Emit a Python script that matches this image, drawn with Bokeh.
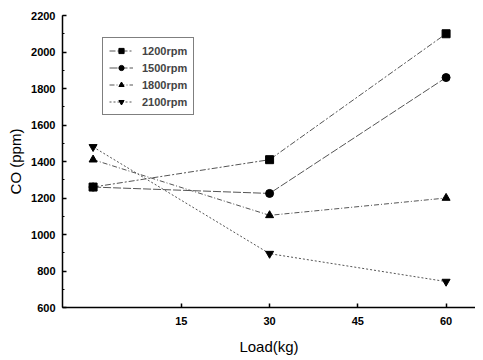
from bokeh.plotting import figure
from bokeh.models import Range1d, SingleIntervalTicker, FixedTicker, Legend, LegendItem
from bokeh.embed import file_html
from bokeh.resources import INLINE

loads = [0, 30, 60]
co_1200 = [1260, 1410, 2100]
co_1500 = [1260, 1225, 1860]
co_1800 = [1410, 1105, 1200]
co_2100 = [1480, 895, 742]
series_names = ["1200rpm", "1500rpm", "1800rpm", "2100rpm"]
x_ticks = [15, 30, 45, 60]

FONT = "Liberation Sans"

p = figure(width=475, height=358, output_backend="svg", toolbar_location=None,
           x_range=Range1d(-5.2, 65), y_range=Range1d(600, 2200),
           min_border_left=62, min_border_right=0, min_border_top=15, min_border_bottom=51)
p.outline_line_color = None
p.grid.grid_line_color = None
p.background_fill_color = "white"

series = [co_1200, co_1500, co_1800, co_2100]
markers = ["square", "circle", "triangle", "inverted_triangle"]
dashes = ["6 2 2 2", "8 2", "5 2 1 2", "2 2"]
items = []
for name, vals, mk, dash in zip(series_names, series, markers, dashes):
    ln = p.line(loads, vals, line_color="#555555", line_width=1, line_dash=dash)
    sc = p.scatter(loads, vals, marker=mk, size=8, fill_color="black", line_color="black")
    items.append(LegendItem(label=name, renderers=[ln, sc]))

legend = Legend(items=items, location=(40, 192))
legend.border_line_color = "black"
legend.border_line_width = 1
legend.background_fill_alpha = 1
legend.label_text_font = FONT
legend.label_text_font_size = "11px"
legend.label_text_font_style = "bold"
legend.glyph_width = 24
legend.glyph_height = 13
legend.label_height = 13
legend.spacing = 4
legend.padding = 6
legend.margin = 0
legend.label_standoff = 9
p.add_layout(legend, "center")

# Y axis
p.yaxis.ticker = SingleIntervalTicker(interval=200, num_minor_ticks=2)
p.yaxis.major_tick_in = 4
p.yaxis.major_tick_out = 0
p.yaxis.minor_tick_in = 2
p.yaxis.minor_tick_out = 0
p.yaxis.axis_label = "CO (ppm)"
p.yaxis.major_label_standoff = 7
p.yaxis.axis_label_standoff = 4

# X axis
p.xaxis.ticker = FixedTicker(ticks=x_ticks, minor_ticks=[])
p.xaxis.major_tick_in = 4
p.xaxis.major_tick_out = 0
p.xaxis.minor_tick_in = 0
p.xaxis.minor_tick_out = 0
p.xaxis.axis_label = "Load(kg)"
p.xaxis.major_label_standoff = 9
p.xaxis.axis_label_standoff = 10

for ax in [p.xaxis[0], p.yaxis[0]]:
    ax.axis_line_color = "black"
    ax.axis_line_width = 1.5
    ax.major_tick_line_color = "black"
    ax.major_tick_line_width = 1.5
    ax.minor_tick_line_color = "black"
    ax.major_label_text_font = FONT
    ax.major_label_text_font_size = "11px"
    ax.major_label_text_font_style = "bold"
    ax.major_label_text_color = "black"
    ax.axis_label_text_font = FONT
    ax.axis_label_text_font_size = "15px"
    ax.axis_label_text_font_style = "normal"
    ax.axis_label_text_color = "black"

open("out.html", "w").write(file_html(p, INLINE))
